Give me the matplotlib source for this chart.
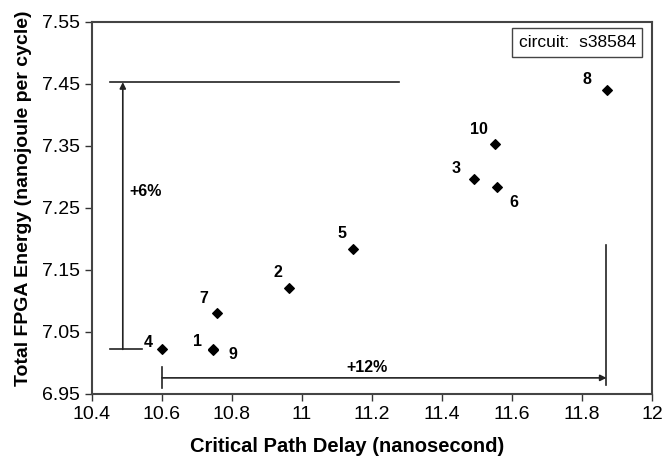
import matplotlib
matplotlib.use("Agg")
import matplotlib.pyplot as plt

plt.rcParams['font.family'] = ['Liberation Sans', 'DejaVu Sans']

labels = ['1', '2', '3', '4', '5', '6', '7', '8', '9', '10']
delay = [10.745, 10.963, 11.492, 10.600, 11.145, 11.557, 10.758, 11.871, 10.747, 11.552]
energy = [7.021, 7.121, 7.296, 7.022, 7.184, 7.284, 7.080, 7.441, 7.023, 7.354]
# label offsets in points
offsets = {'1': (-11, 6), '2': (-8, 11), '3': (-13, 8), '4': (-10, 5), '5': (-8, 11),
           '6': (12, -11), '7': (-10, 11), '8': (-14, 7), '9': (14, -4), '10': (-12, 10)}

xticks = [10.4, 10.6, 10.8, 11, 11.2, 11.4, 11.6, 11.8, 12]
xticklabels = ['10.4', '10.6', '10.8', '11', '11.2', '11.4', '11.6', '11.8', '12']
yticks = [6.95, 7.05, 7.15, 7.25, 7.35, 7.45, 7.55]

fig = plt.figure(figsize=(6.67, 4.62), dpi=100)
ax = fig.add_axes([92/667, 68/462, 560/667, 372/462])

ax.scatter(delay, energy, marker='D', s=24, color='black', zorder=3)
for lab, x, y in zip(labels, delay, energy):
    ax.annotate(lab, (x, y), xytext=offsets[lab], textcoords='offset points',
                ha='center', va='center', fontsize=11.5, fontweight='bold')

lc = '#222222'
# +6% bracket
ax.plot([10.451, 11.277], [7.453, 7.453], color=lc, lw=1.2)
ax.plot([10.451, 10.542], [7.022, 7.022], color=lc, lw=1.2)
ax.annotate('', xy=(10.488, 7.453), xytext=(10.488, 7.022),
            arrowprops=dict(arrowstyle='-|>', color=lc, lw=1.2, mutation_scale=9,
                            shrinkA=0, shrinkB=0))
ax.text(10.508, 7.277, '+6%', fontsize=11.5, fontweight='bold', ha='left', va='center')

# +12% bracket
ax.plot([10.6, 10.6], [6.960, 6.993], color=lc, lw=1.2)
ax.plot([11.87, 11.87], [6.964, 7.19], color=lc, lw=1.2)
ax.annotate('', xy=(11.87, 6.976), xytext=(10.6, 6.976),
            arrowprops=dict(arrowstyle='-|>', color=lc, lw=1.2, mutation_scale=9,
                            shrinkA=0, shrinkB=0))
ax.text(11.186, 6.993, '+12%', fontsize=11.5, fontweight='bold', ha='center', va='center')

ax.text(0.762, 0.945, 'circuit:  s38584', transform=ax.transAxes, fontsize=12.5,
        ha='left', va='center',
        bbox=dict(boxstyle='square,pad=0.38', fc='white', ec='#444444', lw=1))

ax.set_xlim(10.4, 12)
ax.set_ylim(6.95, 7.55)
ax.set_xticks(xticks)
ax.set_xticklabels(xticklabels)
ax.set_yticks(yticks)
ax.set_yticklabels([f'{v:.2f}' for v in yticks])
ax.tick_params(labelsize=14, length=5, width=1, color='#333333', direction='out')
for s in ax.spines.values():
    s.set_color('#444444')
    s.set_linewidth(1.5)

ax.set_xlabel('Critical Path Delay (nanosecond)', fontsize=14.5, fontweight='bold')
ax.set_ylabel('Total FPGA Energy (nanojoule per cycle)', fontsize=14, fontweight='bold')
ax.xaxis.set_label_coords(0.455, -0.115)
ax.yaxis.set_label_coords(-0.107, 0.527)

fig.savefig('out.png', dpi=100)
